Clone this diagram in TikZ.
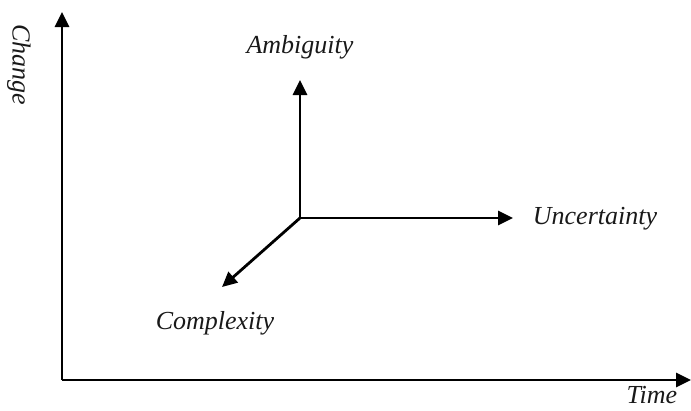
\documentclass[tikz,border=0pt]{standalone}
\usepackage{fontspec}
\setmainfont{Liberation Serif}
\usetikzlibrary{arrows.meta}
\begin{document}
\begin{tikzpicture}[x=1pt,y=-1pt,
  axis/.style={line width=2.8pt,-{Triangle[length=15pt,width=14pt]}},
  lbl/.style={font=\fontsize{26}{30}\selectfont\itshape,text=black!90,inner sep=0pt}]
\useasboundingbox (0,0) rectangle (691,410);
\coordinate (O) at (62,380);
\coordinate (Ytip) at (62,12);
\coordinate (Xtip) at (691,380);
\coordinate (C) at (300,218);
\coordinate (A) at (300,80);
\coordinate (U) at (513,218);
\coordinate (K) at (222,287);
\draw[axis] (O) -- (Ytip);
\draw[axis] (O) -- (Xtip);
\draw[axis] (C) -- (A);
\draw[axis] (C) -- (U);
\draw[axis] (C) -- (K);
\node[lbl] (amb) at (300,47) {Ambiguity};
\node[lbl] (unc) at (595,219) {Uncertainty};
\node[lbl] (com) at (215,323) {Complexity};
\node[lbl] (time) at (652,395) {Time};
\node[lbl,rotate=-90] (chg) at (19,65) {Change};
\end{tikzpicture}
\end{document}
